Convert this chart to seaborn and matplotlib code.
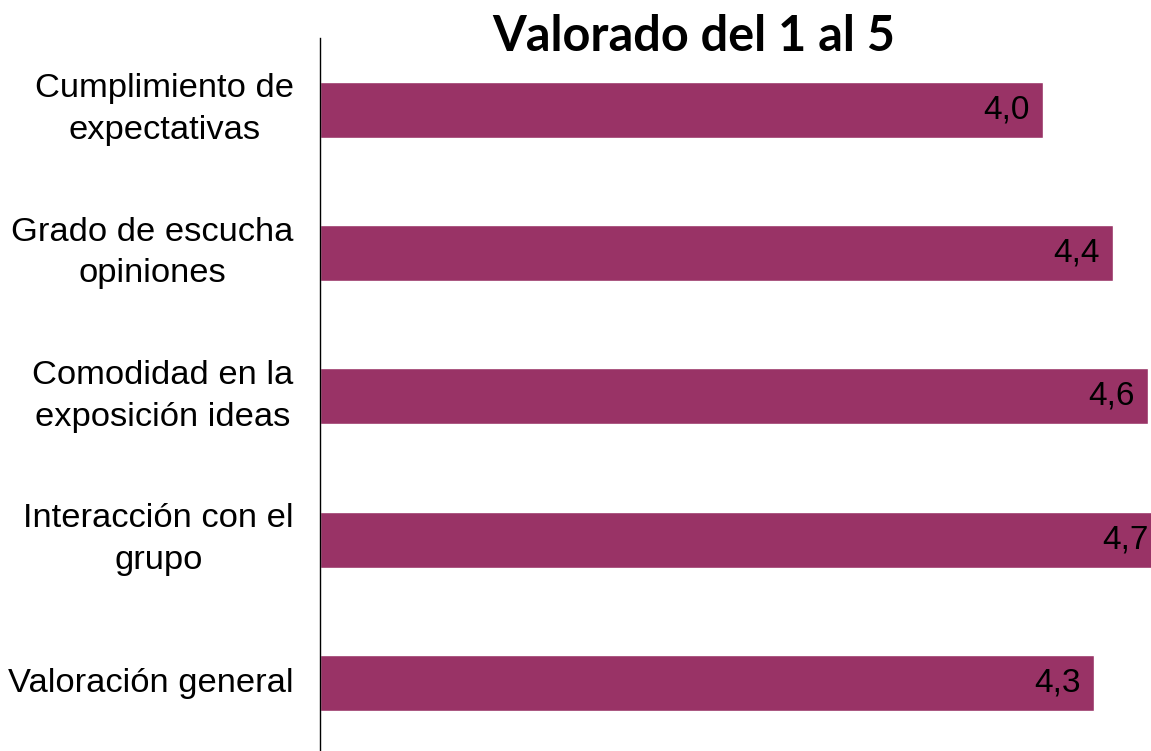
import numpy as np
import pandas as pd
import matplotlib
matplotlib.use("Agg")
import matplotlib.pyplot as plt
import seaborn as sns

# Data
categorias = ["Cumplimiento de\nexpectativas",
              "Grado de escucha\nopiniones",
              "Comodidad en la\nexposición ideas",
              "Interacción con el\ngrupo",
              "Valoración general"]
valores = [4.0, 4.39, 4.58, 4.66, 4.28]
etiquetas = ["4,0", "4,4", "4,6", "4,7", "4,3"]

df = pd.DataFrame({"categoria": categorias, "valor": valores})

sns.set_style("white")
plt.rcParams['font.family'] = ['Liberation Sans', 'DejaVu Sans']
plt.rcParams['text.color'] = 'black'
plt.rcParams['ytick.color'] = 'black'

fig = plt.figure(figsize=(11.51, 7.51), dpi=100)
ax = fig.add_axes([320 / 1151, -0.0049, 1 - 320 / 1151, 0.9543])

sns.barplot(data=df, x="valor", y="categoria", color="#993366",
            saturation=1, width=0.39, ax=ax)

ax.set_xlim(0, 4.598)
ax.set_xlabel("")
ax.set_ylabel("")
ax.set_xticks([])
ax.tick_params(axis="y", length=0, pad=19, labelsize=24.8, labelcolor="black")
for lbl in ax.get_yticklabels():
    lbl.set_multialignment("center")
    lbl.set_linespacing(1.45)
    lbl.set_verticalalignment("center")

for s in ["top", "right", "bottom"]:
    ax.spines[s].set_visible(False)
ax.spines["left"].set_color("black")
ax.spines["left"].set_linewidth(1.0)

# value labels inside the bar end
for i, (v, t) in enumerate(zip(valores, etiquetas)):
    ax.annotate(t, xy=(v, i), xytext=(-9.5, 0), textcoords="offset points",
                ha="right", va="center", fontsize=24, color="black",
                annotation_clip=False)

fig.text(694 / 1151, 1 - 51 / 751, "Valorado del 1 al 5", ha="center",
         va="baseline", fontsize=35, fontweight="bold", family="Lato",
         color="black")

fig.savefig("out.png", dpi=100)
